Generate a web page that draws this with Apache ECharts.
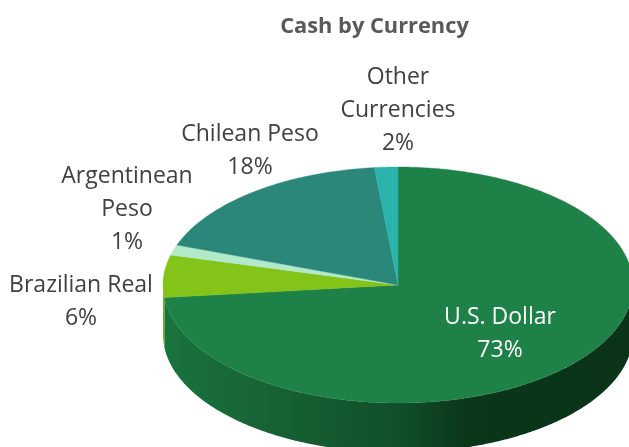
<!DOCTYPE html>
<html>
<head>
<meta charset="utf-8">
<style>html,body{margin:0;padding:0;background:#fff}#c{width:629px;height:447px}</style>
<script src="https://cdn.jsdelivr.net/npm/echarts@6/dist/echarts.min.js"></script>
</head>
<body>
<div id="c"></div>
<script>
const categories = ["U.S. Dollar", "Brazilian Real", "Argentinean\nPeso", "Chilean Peso", "Other\nCurrencies"];
const shares = [73.3, 5.8, 1.4, 17.9, 1.6];
const faceColors = ["#1e8147", "#84c318", "#b1eac9", "#2c877b", "#2ab3ab"];
const wallColors = ["#1a733d", "#76ad15", "#9dd1b2", "#23695f", "#218c86"];
const labelColors = ["#ffffff", "#404040", "#404040", "#404040", "#404040"];
const labelCenters = [[500, 334], [81, 302], [127, 209], [250, 151], [398, 110]];

const CX = 398, CY = 285, RX = 235, RY = 118, DEPTH = 49.5;
const total = shares.reduce((a, b) => a + b, 0);
const rad = d => d * Math.PI / 180;
const rim = (deg, dy) => [CX + RX * Math.sin(rad(deg)), CY - RY * Math.cos(rad(deg)) + (dy || 0)];

function arc(a, b, dy) {
  const pts = [], n = Math.max(2, Math.ceil((b - a) * 2));
  for (let i = 0; i <= n; i++) pts.push(rim(a + (b - a) * i / n, dy));
  return pts;
}

const dollarWall = {
  type: 'linear', x: 163, y: 0, x2: 629, y2: 0, global: true,
  colorStops: [
    { offset: 0, color: '#1a733d' },
    { offset: 0.28, color: '#165f33' },
    { offset: 0.5, color: '#114f2a' },
    { offset: 0.66, color: '#0b3619' },
    { offset: 1, color: '#0a3317' }
  ]
};

function renderSlice(params, api) {
  const i = params.dataIndex;
  let before = 0;
  for (let k = 0; k < i; k++) before += shares[k];
  const a = before / total * 360, b = (before + api.value(0)) / total * 360;
  const children = [];
  const wa = Math.max(a, 90), wb = Math.min(b, 270);
  if (wb > wa) {
    const outer = arc(wa, wb, 0).concat(arc(wa, wb, DEPTH).reverse());
    children.push({
      type: 'polygon', z2: 1, shape: { points: outer },
      style: { fill: i === 0 ? dollarWall : wallColors[i], stroke: null }
    });
  }
  children.push({
    type: 'polygon', z2: 2, shape: { points: [[CX, CY]].concat(arc(a, b, 0)) },
    style: { fill: faceColors[i], stroke: faceColors[i], lineWidth: 0.4 }
  });
  const pct = Math.round(api.value(0)) + '%';
  children.push({
    type: 'text', z2: 3, x: labelCenters[i][0], y: labelCenters[i][1],
    style: {
      text: categories[i] + '\n' + pct, fill: labelColors[i], align: 'center', verticalAlign: 'middle',
      font: '23px "Open Sans"', lineHeight: 33
    }
  });
  return { type: 'group', children };
}

const chart = echarts.init(document.getElementById('c'), null, { renderer: 'canvas' });
chart.setOption({
  animation: false,
  backgroundColor: '#ffffff',
  title: {
    text: 'Cash by Currency', left: 369.5, top: 11, textAlign: 'center',
    textStyle: { fontFamily: '"Open Sans"', fontWeight: 'bold', fontSize: 21.8, color: '#595959' }
  },
  series: [{
    type: 'custom', coordinateSystem: 'none', clip: false,
    data: shares.map((v, i) => ({ name: categories[i], value: [v] })),
    renderItem: renderSlice
  }]
});
</script>
</body>
</html>
